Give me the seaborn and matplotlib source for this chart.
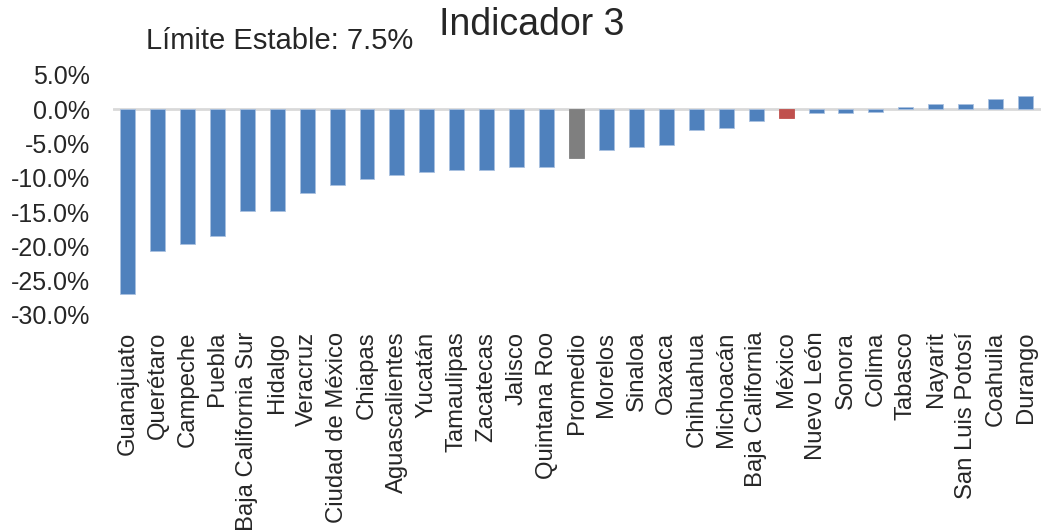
import matplotlib
matplotlib.use("Agg")
import matplotlib.pyplot as plt
import seaborn as sns
import pandas as pd
from matplotlib.ticker import FuncFormatter

estados = ["Guanajuato", "Querétaro", "Campeche", "Puebla", "Baja California Sur",
           "Hidalgo", "Veracruz", "Ciudad de México", "Chiapas", "Aguascalientes",
           "Yucatán", "Tamaulipas", "Zacatecas", "Jalisco", "Quintana Roo", "Promedio",
           "Morelos", "Sinaloa", "Oaxaca", "Chihuahua", "Michoacán", "Baja California",
           "México", "Nuevo León", "Sonora", "Colima", "Tabasco", "Nayarit",
           "San Luis Potosí", "Coahuila", "Durango"]
valores = [-27.0, -20.7, -19.6, -18.5, -14.8, -14.9, -12.25, -11.0, -10.1, -9.6,
           -9.1, -8.9, -8.85, -8.35, -8.35, -7.1, -5.95, -5.55, -5.2, -3.0,
           -2.7, -1.65, -1.3, -0.55, -0.55, -0.35, 0.38, 0.8, 0.78, 1.55, 2.0]

azul, gris, rojo = "#4F81BD", "#7F7F7F", "#C0504D"
colores = [gris if e == "Promedio" else rojo if e == "México" else azul for e in estados]

df = pd.DataFrame({"estado": estados, "valor": valores})

sns.set_style("white")
plt.rcParams["font.family"] = ["Liberation Sans", "DejaVu Sans"]

fig = plt.figure(figsize=(10.42, 5.31), dpi=100)
ax = fig.add_axes([0.108, 0.4068, 0.8906, 0.452])

sns.barplot(data=df, x="estado", y="valor", hue="estado", palette=colores,
            width=0.5, legend=False, ax=ax, saturation=1, order=estados,
            edgecolor="#A9C1E0", linewidth=0.6)
for bar, c in zip(ax.patches, colores):
    if c != azul:
        bar.set_edgecolor(c)

ax.axhline(0, color="#D9D9D9", linewidth=2, zorder=0)
ax.set_ylim(-30, 5)
ax.set_xlim(-0.5, len(estados) - 0.5)
ax.set_yticks(range(-30, 6, 5))
ax.yaxis.set_major_formatter(FuncFormatter(lambda v, p: f"{v:.1f}%"))
ax.set_xlabel("")
ax.set_ylabel("")
ax.tick_params(axis="y", length=0, pad=16, labelsize=18)
ax.tick_params(axis="x", length=0, pad=12, labelsize=17.2, labelrotation=90)
for s in ax.spines.values():
    s.set_visible(False)

fig.text(0.51, 0.952, "Indicador 3", ha="center", va="center", fontsize=27)
fig.text(0.268, 0.922, "Límite Estable: 7.5%", ha="center", va="center", fontsize=21)

fig.savefig("out.png", dpi=100)
